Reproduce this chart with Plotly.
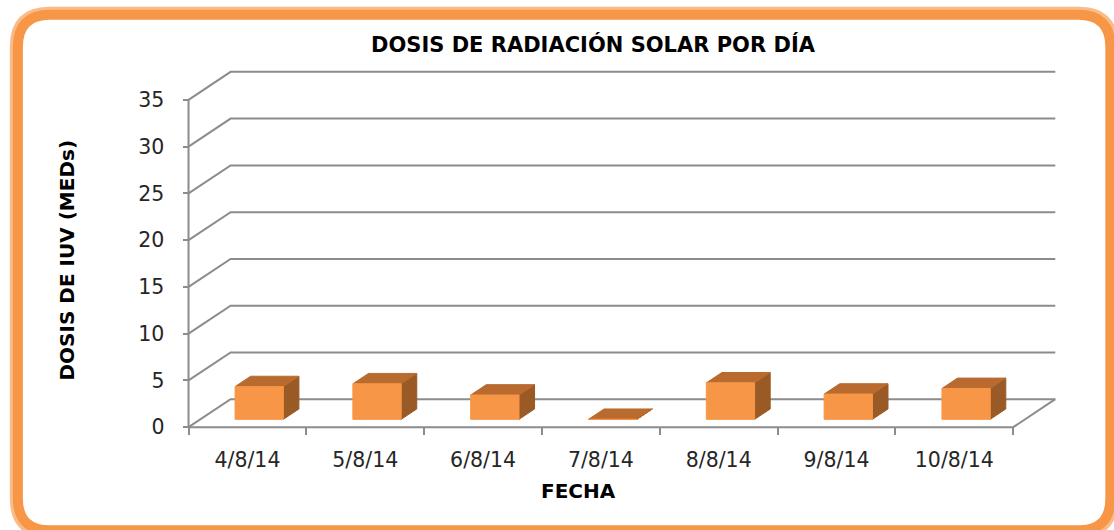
import plotly.graph_objects as go

# ---------------- data ----------------
fechas = ["4/8/14", "5/8/14", "6/8/14", "7/8/14", "8/8/14", "9/8/14", "10/8/14"]
dosis = [3.5, 3.8, 2.6, 0.0, 3.9, 2.7, 3.3]
y_ticks = [0, 5, 10, 15, 20, 25, 30, 35]

titulo = "DOSIS DE RADIACIÓN SOLAR POR DÍA"
titulo_y = "DOSIS DE IUV (MEDs)"
titulo_x = "FECHA"

# ---------------- styling / projection ----------------
W, H = 1114, 530
FRONT = "#F79646"
TOP = "#B96B2F"
SIDE = "#9A5A26"
GRID = "#8C8C8C"
FONT = "DejaVu Sans"

DX, DY = 0.357, 3.0       # depth offset of back wall (in axis units)
D0, D1 = 0.28, 0.65       # depth position of bars (fraction)
BAR_W = 0.41

PX_X, PX_Y = 117.71, 9.343   # pixel per unit
X0, X1 = -0.03, 7.38
Y0, Y1 = -0.3, 38.2
ORX, ORY = 189.0, 427.0      # pixel position of (0, 0)
L = ORX + X0 * PX_X
R = ORX + X1 * PX_X
B = ORY - Y0 * PX_Y
T = ORY - Y1 * PX_Y


def pxx(p):
    return (p - L) / (R - L)


def pxy(p):
    return (B - p) / (B - T)


n = len(fechas)
ymax = y_ticks[-1]

fig = go.Figure()

# back wall gridlines with left diagonals
gx, gy = [], []
for v in y_ticks:
    gx += [0, DX, n + DX, None]
    gy += [v, v + DY, v + DY, None]
fig.add_trace(go.Scatter(x=gx, y=gy, mode="lines",
                         line=dict(color=GRID, width=2), hoverinfo="skip",
                         showlegend=False))

# floor front edge, right diagonal and front vertical axis line
fx = [0, n, n + DX, None, 0, 0]
fy = [0, 0, DY, None, 0, ymax]
fig.add_trace(go.Scatter(x=fx, y=fy, mode="lines", xaxis="x2",
                         line=dict(color=GRID, width=2), hoverinfo="skip",
                         showlegend=False))

# 3D bars
sx, sy, tx, ty, qx, qy = [], [], [], [], [], []
ox, oy = (D1 - D0) * DX, (D1 - D0) * DY
for i, v in enumerate(dosis):
    c = i + 0.5
    xl = c - BAR_W / 2 + D0 * DX
    xr = xl + BAR_W
    yb = D0 * DY
    yt = yb + v
    sx += [xr, xr + ox, xr + ox, xr, xr, None]
    sy += [yb, yb + oy, yt + oy, yt, yb, None]
    tx += [xl, xr, xr + ox, xl + ox, xl, None]
    ty += [yt, yt, yt + oy, yt + oy, yt, None]
    qx += [xl, xr, xr, xl, xl, None]
    qy += [yb, yb, yt, yt, yb, None]

fig.add_trace(go.Scatter(x=sx, y=sy, mode="lines", fill="toself",
                         fillcolor=SIDE, line=dict(color=SIDE, width=1),
                         hoverinfo="skip", showlegend=False))
fig.add_trace(go.Scatter(x=tx, y=ty, mode="lines", fill="toself",
                         fillcolor=TOP, line=dict(color=TOP, width=1),
                         hoverinfo="skip", showlegend=False))
fig.add_trace(go.Scatter(x=qx, y=qy, mode="lines", fill="toself",
                         fillcolor=FRONT, line=dict(color=FRONT, width=1),
                         hoverinfo="skip", showlegend=False))

# ---------------- frame ----------------
def rounded(x1, y1, x2, y2, r):
    P = lambda a, b: f"{pxx(a):.5f},{pxy(b):.5f}"
    return (f"M {P(x1 + r, y1)} L {P(x2 - r, y1)} Q {P(x2, y1)} {P(x2, y1 + r)} "
            f"L {P(x2, y2 - r)} Q {P(x2, y2)} {P(x2 - r, y2)} "
            f"L {P(x1 + r, y2)} Q {P(x1, y2)} {P(x1, y2 - r)} "
            f"L {P(x1, y1 + r)} Q {P(x1, y1)} {P(x1 + r, y1)} Z")


shapes = []
for off, wdt, op in [(6, 4, 0.10), (5, 6, 0.16), (4, 8, 0.25), (3, 10, 0.35)]:
    shapes.append(dict(type="path", xref="paper", yref="paper",
                       path=rounded(18.5 - off, 15 - off, 1110 + off, 530 + off, 32 + off),
                       line=dict(color=f"rgba(247,150,70,{op})", width=wdt),
                       layer="above"))
shapes.append(dict(type="path", xref="paper", yref="paper",
                   path=rounded(18.5, 15, 1110, 530, 32),
                   line=dict(color=FRONT, width=10), layer="above"))

annotations = [
    dict(text=f"<b>{titulo}</b>", x=pxx(594), y=pxy(45), xref="paper", yref="paper",
         showarrow=False, xanchor="center", yanchor="middle",
         font=dict(family=FONT, size=21, color="#000000")),
    dict(text=f"<b>{titulo_y}</b>", x=pxx(68), y=pxy(260), xref="paper", yref="paper",
         showarrow=False, xanchor="center", yanchor="middle", textangle=-90,
         font=dict(family=FONT, size=20, color="#000000")),
    dict(text=f"<b>{titulo_x}</b>", x=pxx(579), y=pxy(491), xref="paper", yref="paper",
         showarrow=False, xanchor="center", yanchor="middle",
         font=dict(family=FONT, size=20, color="#000000")),
]

tick_font = dict(family=FONT, size=20.5, color="#262626")

fig.update_layout(
    width=W, height=H,
    margin=dict(l=L, r=W - R, t=T, b=H - B, autoexpand=False),
    paper_bgcolor="white", plot_bgcolor="rgba(0,0,0,0)",
    showlegend=False,
    xaxis=dict(range=[X0, X1], tickvals=[i + 0.5 for i in range(n)], ticktext=fechas,
               ticks="", showgrid=False, zeroline=False, showline=False,
               tickfont=tick_font, ticklabelstandoff=18,
               anchor="free", position=pxy(ORY)),
    xaxis2=dict(range=[X0, X1], matches="x", overlaying="x", tickvals=list(range(n + 1)),
                ticks="outside", ticklen=7, tickwidth=2, tickcolor=GRID,
                showticklabels=False, showgrid=False, zeroline=False, showline=False,
                anchor="free", position=pxy(ORY), side="bottom"),
    yaxis=dict(range=[Y0, Y1], tickvals=y_ticks, ticks="outside", ticklen=6,
               tickwidth=2, tickcolor=GRID, showgrid=False, zeroline=False,
               showline=False, tickfont=tick_font, ticklabelstandoff=14,
               anchor="free", position=pxx(ORX)),
    shapes=shapes,
    annotations=annotations,
)

fig.write_html("out.html", config={"displayModeBar": False},
               post_script="document.body.style.margin='0';document.body.style.overflow='hidden';")
